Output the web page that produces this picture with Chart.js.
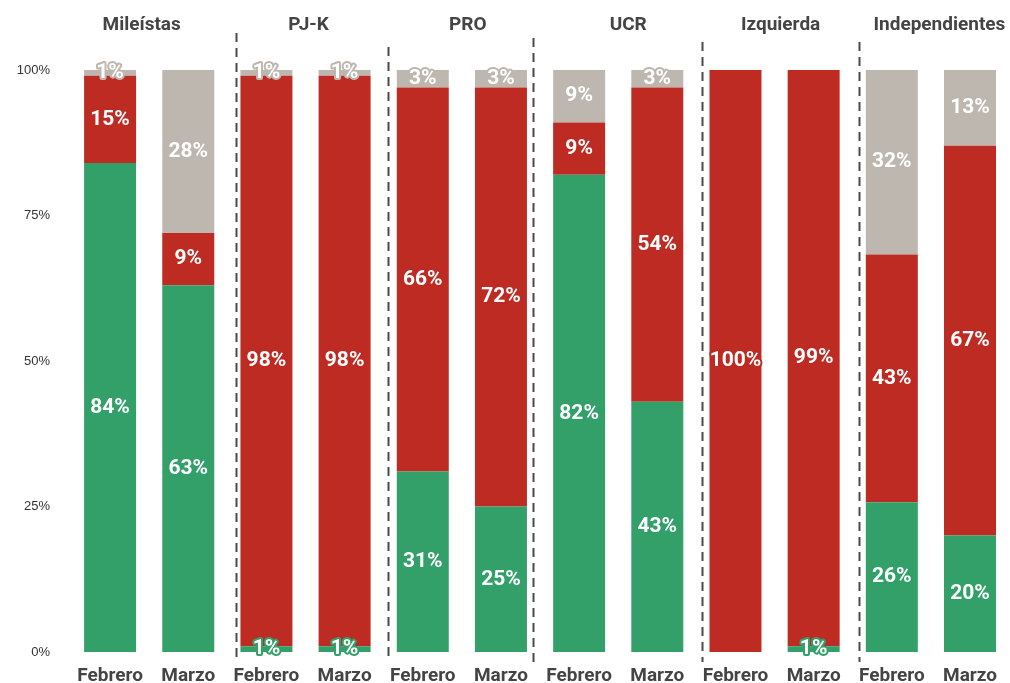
<!DOCTYPE html>
<html>
<head>
<meta charset="utf-8">
<script src="https://cdn.jsdelivr.net/npm/chart.js@4.4.1/dist/chart.umd.min.js"></script>
<style>
html,body{margin:0;padding:0;background:#fff;}
#wrap{width:1010px;height:683px;position:relative;}
</style>
</head>
<body>
<div id="wrap"><canvas id="c"></canvas></div>
<script>
// ---- data ----
const groups = ["Mileístas", "PJ-K", "PRO", "UCR", "Izquierda", "Independientes"];
const months = ["Febrero", "Marzo"];
const categories = ["Febrero","Marzo","Febrero","Marzo","Febrero","Marzo","Febrero","Marzo","Febrero","Marzo","Febrero","Marzo"];
const favor   = [84, 63, 1, 1, 31, 25, 82, 43, 0, 1, 26, 20];   // green
const contra  = [15, 9, 98, 98, 66, 72, 9, 54, 100, 99, 43, 67]; // red
const nsnc    = [1, 28, 1, 1, 3, 3, 9, 3, 0, 0, 32, 13];        // gray
const yTicks = [0, 25, 50, 75, 100];

// normalise each bar to 100 (filled stack)
const totals = categories.map((_, i) => favor[i] + contra[i] + nsnc[i]);
const norm = arr => arr.map((v, i) => v / totals[i] * 100);

const COLORS = { green: '#33a06a', red: '#bd2b23', gray: '#bdb7af' };

const labelPlugin = {
  id: 'segLabels',
  afterDatasetsDraw(chart) {
    const ctx = chart.ctx;
    ctx.save();
    ctx.font = 'bold 21px Roboto';
    ctx.textAlign = 'center';
    ctx.textBaseline = 'middle';
    ctx.lineJoin = 'round';
    chart.data.datasets.forEach((ds, di) => {
      const meta = chart.getDatasetMeta(di);
      meta.data.forEach((el, i) => {
        const raw = ds.rawValues[i];
        if (!raw) return;
        const y = (el.y + el.base) / 2;
        const t = raw + '%';
        ctx.lineWidth = 4;
        ctx.strokeStyle = ds.backgroundColor;
        ctx.strokeText(t, el.x, y);
        ctx.fillStyle = '#ffffff';
        ctx.fillText(t, el.x, y);
      });
    });
    ctx.restore();
  }
};

const facetPlugin = {
  id: 'facets',
  beforeDatasetsDraw(chart, args, opts) {
    const ctx = chart.ctx;
    const xs = chart.scales.x;
    ctx.save();
    // dashed separators
    ctx.strokeStyle = '#4a4a4a';
    ctx.lineWidth = 2;
    ctx.setLineDash([9, 6]);
    opts.separators.forEach((p, k) => {
      const x = Math.round(xs.getPixelForValue(p)) + 0.5;
      ctx.beginPath();
      ctx.moveTo(x, opts.sepTop[k]);
      ctx.lineTo(x, 662);
      ctx.stroke();
    });
    ctx.setLineDash([]);
    // group titles
    ctx.font = 'bold 19px Roboto';
    ctx.fillStyle = '#444444';
    ctx.textAlign = 'center';
    ctx.textBaseline = 'middle';
    groups.forEach((g, k) => {
      const x = (xs.getPixelForValue(2 * k) + xs.getPixelForValue(2 * k + 1)) / 2 + opts.titleShift[k];
      ctx.fillText(g, x, 25);
    });
    ctx.restore();
  }
};

new Chart(document.getElementById('c'), {
  type: 'bar',
  data: {
    labels: categories,
    datasets: [
      { label: 'A favor', data: norm(favor), rawValues: favor, backgroundColor: COLORS.green },
      { label: 'En contra', data: norm(contra), rawValues: contra, backgroundColor: COLORS.red },
      { label: 'Ns/Nc', data: norm(nsnc), rawValues: nsnc, backgroundColor: COLORS.gray }
    ]
  },
  options: {
    responsive: true,
    maintainAspectRatio: false,
    animation: false,
    layout: { padding: { top: 70, left: 0, right: 0, bottom: 0 } },
    datasets: { bar: { categoryPercentage: 1, barPercentage: 0.665, borderWidth: 0 } },
    plugins: {
      legend: { display: false },
      tooltip: { enabled: false },
      facets: {
        separators: [1.61, 3.56, 5.41, 7.57, 9.58],
        sepTop: [33, 47, 38, 42, 42],
        titleShift: [-7.5, 3, 6, 10, 6, 8.5]
      }
    },
    scales: {
      x: {
        stacked: true,
        grid: { display: false, drawTicks: false },
        border: { display: false },
        ticks: { font: { family: 'Roboto', size: 19, weight: 'bold' }, color: '#444444', padding: 13, maxRotation: 0, autoSkip: false },
        afterFit(s) { s.height = 31; }
      },
      y: {
        stacked: true,
        min: 0, max: 100,
        afterBuildTicks(s) { s.ticks = yTicks.map(v => ({ value: v })); },
        grid: { display: false, drawTicks: false },
        border: { display: false },
        ticks: { font: { family: 'Liberation Sans', size: 13 }, color: '#333333', padding: 21, callback: v => v + '%' },
        afterFit(s) { s.width = 71; }
      }
    }
  },
  plugins: [facetPlugin, labelPlugin]
});
</script>
</body>
</html>
